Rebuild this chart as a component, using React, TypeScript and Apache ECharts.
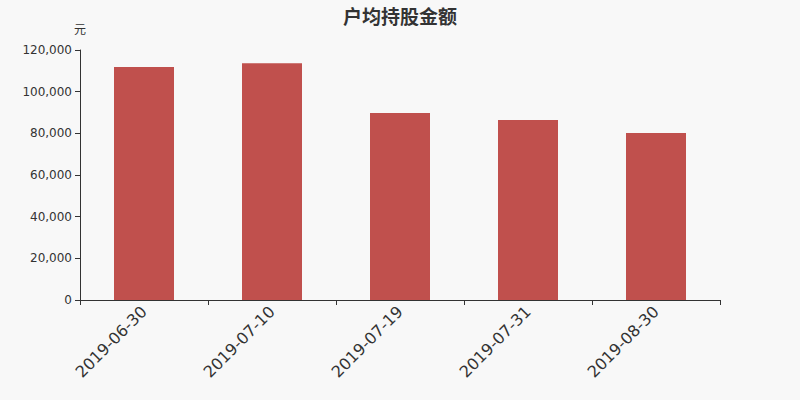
import React, { useEffect, useRef } from 'react';
import * as echarts from 'echarts';

const categories = ['2019-06-30', '2019-07-10', '2019-07-19', '2019-07-31', '2019-08-30'];
const amounts = [111900, 113700, 89800, 86400, 80200];

const App: React.FC = () => {
  const chartRef = useRef<HTMLDivElement>(null);

  useEffect(() => {
    if (!chartRef.current) return;
    const chart = echarts.init(chartRef.current, null, { renderer: 'svg' });

    const option = {
      animation: false,
      backgroundColor: '#f8f8f8',
      title: {
        text: '户均持股金额',
        left: 'center',
        top: 1,
        textStyle: { color: '#333', fontSize: 19, fontWeight: 'bold', fontFamily: 'Noto Sans CJK SC' }
      },
      grid: { left: 80, right: 80, top: 50, bottom: 100 },
      xAxis: {
        type: 'category',
        data: categories,
        axisLine: { lineStyle: { color: '#333' } },
        axisTick: { show: true, alignWithLabel: false, lineStyle: { color: '#333' } },
        axisLabel: { rotate: 45, color: '#333', fontSize: 16, fontFamily: 'DejaVu Sans', margin: 9 }
      },
      yAxis: {
        type: 'value',
        name: '元',
        nameGap: 16,
        nameTextStyle: { color: '#333', fontSize: 12, fontFamily: 'Noto Sans CJK SC', align: 'center' },
        min: 0,
        max: 120000,
        interval: 20000,
        axisLine: { show: true, lineStyle: { color: '#333' } },
        axisTick: { show: true, lineStyle: { color: '#333' } },
        splitLine: { show: false },
        axisLabel: {
          color: '#333',
          fontSize: 12,
          fontFamily: 'DejaVu Sans',
          formatter: (v: number) => v.toLocaleString('en-US')
        }
      },
      series: [
        {
          type: 'bar',
          data: amounts,
          barWidth: 60,
          itemStyle: { color: '#c0504d' }
        }
      ]
    } as any;

    chart.setOption(option);
    return () => chart.dispose();
  }, []);

  return <div ref={chartRef} style={{ position: 'fixed', left: 0, top: 0, width: 800, height: 400 }} />;
};

export default App;
